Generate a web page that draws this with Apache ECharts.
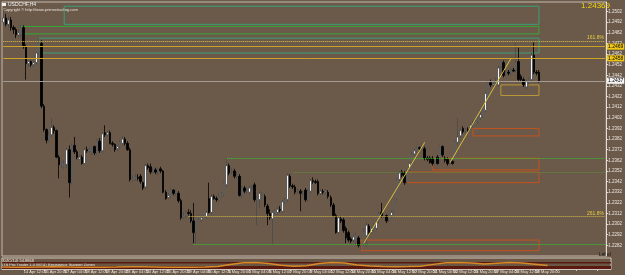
<!DOCTYPE html>
<html><head><meta charset="utf-8">
<script src="https://cdn.jsdelivr.net/npm/echarts@6/dist/echarts.min.js"></script>
<style>html,body{margin:0;padding:0;background:#6b5a4a;}#c{width:625px;height:275px;}</style>
</head><body><div id="c"></div>
<script>
// OHLC: [open, close, low, high]
const candles = [
[1.2492,1.2496,1.2489,1.2504],[1.2496,1.2490,1.2488,1.2500],[1.2490,1.2494,1.2487,1.2498],[1.2494,1.2487,1.2484,1.2497],
[1.2487,1.2485,1.2481,1.2489],[1.2485,1.2480,1.2477,1.2487],[1.2480,1.2482,1.2478,1.2485],[1.2480,1.2487,1.2478,1.2489],
[1.2487,1.2469,1.2467,1.2489],[1.2469,1.2453,1.2438,1.2471],[1.2453,1.2455,1.2450,1.2456],[1.2455,1.2452,1.2450,1.2456],
[1.2452,1.2454,1.2450,1.2456],[1.2454,1.2463,1.2452,1.2464],[1.2463,1.2472,1.2461,1.2477],[1.2472,1.2413,1.2411,1.2475],
[1.2413,1.2391,1.2389,1.2415],[1.2391,1.2381,1.2378,1.2392],[1.2381,1.2386,1.2379,1.2389],[1.2386,1.2393,1.2384,1.2402],
[1.2393,1.2390,1.2387,1.2395],[1.2390,1.2365,1.2364,1.2391],[1.2365,1.2358,1.2345,1.2367],[1.2358,1.2359,1.2355,1.2361],
[1.2356,1.2359,1.2354,1.2362],[1.2358,1.2372,1.2355,1.2374],[1.2372,1.2341,1.2327,1.2376],[1.2341,1.2376,1.2339,1.2378],
[1.2376,1.2370,1.2368,1.2384],[1.2370,1.2365,1.2363,1.2372],[1.2363,1.2365,1.2362,1.2367],[1.2365,1.2359,1.2358,1.2367],
[1.2359,1.2372,1.2358,1.2374],[1.2372,1.2371,1.2369,1.2375],[1.2371,1.2372,1.2369,1.2374],[1.2369,1.2375,1.2367,1.2376],
[1.2375,1.2369,1.2367,1.2376],[1.2369,1.2381,1.2368,1.2382],[1.2380,1.2371,1.2369,1.2383],[1.2371,1.2387,1.2369,1.2389],
[1.2388,1.2386,1.2384,1.2395],[1.2386,1.2388,1.2384,1.2390],[1.2388,1.2378,1.2377,1.2390],[1.2378,1.2377,1.2375,1.2380],
[1.2377,1.2372,1.2370,1.2378],[1.2373,1.2375,1.2371,1.2376],[1.2375,1.2379,1.2373,1.2381],[1.2378,1.2382,1.2376,1.2385],
[1.2382,1.2378,1.2376,1.2384],[1.2378,1.2372,1.2371,1.2380],[1.2372,1.2344,1.2342,1.2374],[1.2344,1.2345,1.2342,1.2348],
[1.2345,1.2346,1.2343,1.2349],[1.2346,1.2345,1.2343,1.2349],[1.2347,1.2342,1.2340,1.2349],[1.2341,1.2336,1.2334,1.2342],
[1.2337,1.2357,1.2335,1.2359],[1.2357,1.2355,1.2353,1.2359],[1.2356,1.2351,1.2349,1.2359],[1.2351,1.2353,1.2350,1.2355],
[1.2353,1.2351,1.2349,1.2355],[1.2351,1.2354,1.2348,1.2356],[1.2354,1.2352,1.2350,1.2356],[1.2352,1.2332,1.2331,1.2353],
[1.2332,1.2326,1.2325,1.2334],[1.2327,1.2329,1.2326,1.2331],[1.2329,1.2334,1.2327,1.2336],[1.2334,1.2331,1.2329,1.2335],
[1.2331,1.2332,1.2329,1.2334],[1.2331,1.2324,1.2322,1.2333],[1.2324,1.2308,1.2306,1.2326],[1.2309,1.2310,1.2307,1.2313],
[1.2310,1.2313,1.2308,1.2315],[1.2313,1.2312,1.2310,1.2316],[1.2312,1.2305,1.2303,1.2315],[1.2305,1.2294,1.2284,1.2322],
[1.2294,1.2308,1.2283,1.2310],[1.2308,1.2309,1.2306,1.2311],[1.2306,1.2308,1.2304,1.2310],[1.2308,1.2310,1.2307,1.2311],
[1.2309,1.2313,1.2307,1.2315],[1.2326,1.2313,1.2312,1.2341],[1.2313,1.2328,1.2311,1.2330],[1.2328,1.2326,1.2325,1.2330],
[1.2326,1.2325,1.2323,1.2328],[1.2325,1.2329,1.2323,1.2331],[1.2329,1.2330,1.2327,1.2332],[1.2330,1.2341,1.2328,1.2342],
[1.2339,1.2357,1.2337,1.2364],[1.2357,1.2350,1.2348,1.2359],[1.2351,1.2352,1.2349,1.2355],[1.2352,1.2347,1.2345,1.2354],
[1.2347,1.2348,1.2345,1.2351],[1.2347,1.2329,1.2328,1.2349],[1.2329,1.2336,1.2327,1.2338],[1.2336,1.2333,1.2331,1.2338],
[1.2333,1.2334,1.2331,1.2337],[1.2332,1.2336,1.2330,1.2338],[1.2336,1.2337,1.2334,1.2339],[1.2339,1.2325,1.2323,1.2341],
[1.2325,1.2326,1.2301,1.2328],[1.2325,1.2331,1.2317,1.2333],[1.2327,1.2329,1.2326,1.2332],[1.2328,1.2320,1.2318,1.2330],
[1.2319,1.2312,1.2301,1.2321],[1.2312,1.2308,1.2306,1.2316],[1.2307,1.2313,1.2282,1.2315],[1.2313,1.2314,1.2311,1.2316],
[1.2313,1.2316,1.2311,1.2318],[1.2316,1.2315,1.2313,1.2319],[1.2314,1.2323,1.2312,1.2325],[1.2323,1.2325,1.2321,1.2327],
[1.2325,1.2348,1.2323,1.2350],[1.2347,1.2338,1.2336,1.2349],[1.2338,1.2337,1.2335,1.2340],[1.2337,1.2332,1.2330,1.2339],
[1.2332,1.2333,1.2330,1.2335],[1.2333,1.2331,1.2314,1.2335],[1.2331,1.2332,1.2329,1.2334],[1.2334,1.2325,1.2323,1.2336],
[1.2325,1.2333,1.2323,1.2335],[1.2333,1.2343,1.2331,1.2345],[1.2343,1.2342,1.2340,1.2346],[1.2342,1.2341,1.2340,1.2344],
[1.2342,1.2331,1.2329,1.2344],[1.2331,1.2333,1.2329,1.2335],[1.2333,1.2332,1.2330,1.2335],[1.2332,1.2333,1.2330,1.2335],
[1.2332,1.2328,1.2326,1.2334],[1.2327,1.2320,1.2318,1.2329],[1.2320,1.2310,1.2309,1.2322],[1.2310,1.2294,1.2293,1.2312],
[1.2294,1.2308,1.2293,1.2310],[1.2307,1.2305,1.2303,1.2309],[1.2306,1.2296,1.2294,1.2308],[1.2298,1.2289,1.2284,1.2300],
[1.2294,1.2287,1.2285,1.2296],[1.2288,1.2286,1.2284,1.2290],[1.2287,1.2290,1.2285,1.2292],[1.2285,1.2292,1.2283,1.2294],
[1.2289,1.2282,1.2280,1.2291],[1.2282,1.2283,1.2278,1.2285],[1.2283,1.2294,1.2282,1.2298],[1.2291,1.2301,1.2281,1.2304],
[1.2300,1.2294,1.2293,1.2302],[1.2294,1.2298,1.2293,1.2300],[1.2297,1.2301,1.2295,1.2303],[1.2298,1.2304,1.2296,1.2306],
[1.2305,1.2312,1.2303,1.2314],[1.2313,1.2310,1.2308,1.2322],[1.2310,1.2311,1.2308,1.2312],[1.2310,1.2305,1.2303,1.2311],
[1.2306,1.2310,1.2304,1.2311],[1.2310,1.2313,1.2308,1.2315],[1.2314,1.2325,1.2312,1.2326],[1.2326,1.2343,1.2324,1.2345],
[1.2344,1.2350,1.2342,1.2352],[1.2351,1.2348,1.2346,1.2353],[1.2350,1.2341,1.2339,1.2352],[1.2342,1.2352,1.2340,1.2354],
[1.2354,1.2359,1.2352,1.2361],[1.2360,1.2368,1.2359,1.2370],[1.2368,1.2371,1.2366,1.2373],[1.2371,1.2374,1.2369,1.2375],
[1.2374,1.2373,1.2371,1.2375],[1.2373,1.2374,1.2372,1.2378],[1.2373,1.2364,1.2362,1.2375],[1.2364,1.2363,1.2361,1.2366],
[1.2364,1.2360,1.2359,1.2366],[1.2364,1.2359,1.2357,1.2366],[1.2359,1.2360,1.2358,1.2362],[1.2365,1.2359,1.2358,1.2367],
[1.2362,1.2375,1.2360,1.2376],[1.2375,1.2367,1.2365,1.2376],[1.2364,1.2362,1.2360,1.2366],[1.2363,1.2359,1.2357,1.2365],
[1.2359,1.2360,1.2358,1.2361],[1.2361,1.2359,1.2358,1.2362],[1.2362,1.2379,1.2360,1.2381],[1.2379,1.2384,1.2377,1.2402],
[1.2385,1.2390,1.2383,1.2392],[1.2392,1.2389,1.2387,1.2394],[1.2390,1.2391,1.2388,1.2392],[1.2391,1.2390,1.2388,1.2393],
[1.2392,1.2395,1.2391,1.2397],[1.2395,1.2397,1.2393,1.2399],[1.2397,1.2398,1.2396,1.2401],[1.2398,1.2402,1.2396,1.2404],
[1.2402,1.2405,1.2400,1.2407],[1.2404,1.2411,1.2402,1.2413],[1.2409,1.2425,1.2407,1.2427],[1.2422,1.2435,1.2420,1.2437],
[1.2435,1.2433,1.2431,1.2438],[1.2433,1.2434,1.2431,1.2436],[1.2434,1.2435,1.2432,1.2440],[1.2433,1.2449,1.2431,1.2451],
[1.2451,1.2455,1.2449,1.2456],[1.2454,1.2442,1.2440,1.2456],[1.2443,1.2445,1.2441,1.2447],[1.2445,1.2444,1.2442,1.2447],
[1.2444,1.2447,1.2442,1.2449],[1.2447,1.2446,1.2445,1.2449],[1.2447,1.2454,1.2445,1.2472],[1.2455,1.2438,1.2436,1.2468],
[1.2441,1.2438,1.2436,1.2443],[1.2438,1.2433,1.2431,1.2440],[1.2431,1.2436,1.2429,1.2438],[1.2435,1.2438,1.2433,1.2440],
[1.2438,1.2461,1.2436,1.2463],[1.2461,1.2445,1.2443,1.2473],[1.2445,1.2444,1.2442,1.2447],[1.2445,1.24369,1.2435,1.2447]
];
const tickLabels = ["11 Apr 2013","14 Apr 12:00","15 Apr 20:00","17 Apr 04:00","18 Apr 12:00","19 Apr 20:00","23 Apr 04:00",
"24 Apr 12:00","25 Apr 20:00","29 Apr 04:00","30 Apr 12:00","1 May 20:00","5 May 04:00","6 May 12:00","7 May 20:00",
"9 May 04:00","12 May 12:00","13 May 20:00","15 May 04:00","16 May 12:00","17 May 20:00","21 May 04:00","22 May 12:00",
"23 May 20:00","27 May 04:00","28 May 12:00","29 May 20:00"];
// zones (rectangles): bar index from/to, price top/bottom
const zoneFrom   = [24, 7, 14, 196, 185, 169, 159, 141];
const zoneTo     = [211, 211, 211, 211, 211, 211, 211, 211];
const zoneTop    = [1.2507, 1.2488, 1.2477, 1.2433, 1.2392, 1.2364, 1.2351, 1.2287];
const zoneBottom = [1.2490, 1.2481, 1.2463, 1.2423, 1.2385, 1.2353, 1.2341, 1.2277];
// full width levels
const solidLevels = [1.2469, 1.2458];
const lastPrice = 1.24369;
// partial dotted levels: price, start bar index
const dotLevels = [1.2474, 1.2364, 1.2351, 1.2309, 1.2283];
const dotFrom   = [0, 88, 114, 73, 75];
const dotText   = ["161.8%", "", "", "261.8%", ""];
// trend lines [bar, price] pairs
const trendA = [[142, 1.2284], [166, 1.2379]];
const trendB = [[176, 1.2360], [200, 1.2458]];
// indicator sub window (0..100 scale) and its background bands
const indicator = [18,17,16,18,20,19,17,16,17,18,20,21,19,17,16,16,18,22,40,56,58,50,34,24,30,50,58,54,36,27,22,20,22,26,42,57,60,55,46,52,58,55,44,32];
const indBands = [[50, 64], [0, 27]];

// ---- styles ----
const zoneColors = ['#3a9e78','#34a834','#3a9e78','#b89838','#c4521e','#c4521e','#c4521e','#c4521e'];
const dotColors = ['#d8bd48','#2fcc2f','#5f8f3a','#d8bd48','#2fcc2f'];
const FONT = '"Liberation Sans Narrow", "Liberation Sans", Arial, sans-serif';

const N = 238;
const cats = Array.from({length: N}, (_, i) => String(i));
const indCats = Array.from({length: 49}, (_, i) => String(i));
const lastIdx = String(N - 1);

const markAreaData = zoneFrom.map((f, i) => [
  {xAxis: String(f), yAxis: zoneTop[i], itemStyle: {color: 'rgba(0,0,0,0)', borderColor: zoneColors[i], borderWidth: 1}},
  {xAxis: String(zoneTo[i]), yAxis: zoneBottom[i]}
]);

const markLineData = [];
function fullLine(v, color, bg) {
  markLineData.push([
    {coord: ['0', v], lineStyle: {color: color, type: 'solid', width: 1},
     label: {show: true, position: 'end', distance: 2, formatter: v.toFixed(4), fontSize: 5, color: '#000',
             backgroundColor: bg, padding: [1, 1, 0, 1], fontFamily: FONT}},
    {coord: [lastIdx, v]}
  ]);
}
solidLevels.forEach(v => fullLine(v, '#c9a227', '#f0c814'));
fullLine(lastPrice, '#a49c94', '#f4f4f4');
dotLevels.forEach((v, i) => markLineData.push([
  {coord: [String(dotFrom[i]), v], lineStyle: {color: dotColors[i], type: [1, 1], width: 1},
   label: {show: !!dotText[i], position: 'insideEndTop', distance: 1, formatter: dotText[i], fontSize: 5,
           color: '#e8cc40', fontFamily: FONT}},
  {coord: [lastIdx, v]}
]));
[trendA, trendB].forEach(t => markLineData.push([
  {coord: [String(t[0][0]), t[0][1]], lineStyle: {color: '#d8c040', type: 'solid', width: 1}, label: {show: false}},
  {coord: [String(t[1][0]), t[1][1]]}
]));

const labelEvery = (idx) => idx % 8 === 0;

const option = {
  backgroundColor: '#6b5a4a',
  animation: false,
  grid: [
    {left: 2, right: 14, top: 2, height: 254, show: true, borderColor: '#c4bab0', borderWidth: 1, backgroundColor: 'rgba(0,0,0,0)'},
    {left: 2, right: 14, top: 258, height: 11, show: true, borderColor: '#cfc6bc', borderWidth: 1, backgroundColor: '#6a5645'}
  ],
  xAxis: [
    {type: 'category', data: cats, gridIndex: 0, axisLine: {show: false}, axisTick: {show: false}, axisLabel: {show: false}, splitLine: {show: false}},
    {type: 'category', data: cats, gridIndex: 1, position: 'bottom',
     axisLine: {show: true, lineStyle: {color: '#d0c8c0'}},
     axisTick: {show: true, interval: labelEvery, alignWithLabel: true, length: 2, lineStyle: {color: '#d0c8c0'}},
     axisLabel: {interval: labelEvery, fontSize: 4, color: '#ece6e0', align: 'left', margin: 1, fontFamily: FONT,
                 formatter: (v, idx) => { const k = idx / 8; return (Number.isInteger(k) && tickLabels[k]) ? tickLabels[k] : ''; }},
     splitLine: {show: false}},
    {type: 'category', data: indCats, gridIndex: 1, show: false, boundaryGap: false}
  ],
  yAxis: [
    {type: 'value', gridIndex: 0, position: 'right', min: 1.2272, max: 1.2511, interval: 0.001,
     axisLine: {show: true, lineStyle: {color: '#e4dcd4'}},
     axisTick: {show: true, length: 2, lineStyle: {color: '#e4dcd4'}},
     axisLabel: {fontSize: 4.5, color: '#ece6e0', margin: 2, fontFamily: FONT, showMinLabel: false, showMaxLabel: false,
                 formatter: v => v.toFixed(4)},
     splitLine: {show: false}},
    {type: 'value', gridIndex: 1, min: 0, max: 100, show: false}
  ],
  series: [
    {type: 'candlestick', xAxisIndex: 0, yAxisIndex: 0, data: candles, barWidth: 2,
     itemStyle: {color: '#f4f4f4', color0: '#000000', borderColor: '#4a4a4a', borderColor0: '#000000', borderWidth: 0.8},
     markArea: {silent: true, data: markAreaData},
     markLine: {silent: true, symbol: ['none', 'none'], animation: false, data: markLineData}
    },
    {type: 'line', xAxisIndex: 2, yAxisIndex: 1, data: indicator, symbol: 'none',
     lineStyle: {color: '#d88a28', width: 1.5},
     markArea: {silent: true, itemStyle: {color: '#5a1a10'},
                data: indBands.map(b => [{yAxis: b[0]}, {yAxis: b[1]}])}}
  ],
  graphic: [
    {type: 'rect', left: 2, top: 3, shape: {width: 4, height: 3}, style: {fill: '#f0f0f0'}},
    {type: 'text', left: 8, top: 2, style: {text: 'USDCHF,H4', fontSize: 5, fill: '#f0f0f0', fontFamily: FONT}},
    {type: 'text', left: 3, top: 8, style: {text: 'Copyright \u00a9 http://www.primextrading.com', fontSize: 4, fill: '#e8e0d8', fontFamily: FONT}},
    {type: 'text', right: 15, top: 2, style: {text: '1.24369', fontSize: 8, fill: '#f5d80a', fontFamily: FONT}},
    {type: 'text', right: 14, top: 252, style: {text: 'Label', fontSize: 5, fill: '#141414', fontFamily: FONT}},
    {type: 'text', left: 3, top: 258.5, style: {text: 'DZC(14) 54.8868', fontSize: 4, fill: '#f0e6dc', fontFamily: FONT}},
    {type: 'text', left: 3, top: 263, style: {text: 'TS Pro Trader 1.0 (MT4) Resistance Support Zones', fontSize: 4, fill: '#f0e6dc', fontFamily: FONT}}
  ]
};
const chart = echarts.init(document.getElementById('c'), null, {renderer: 'canvas', width: 625, height: 275});
chart.setOption(option);
</script>
</body></html>
